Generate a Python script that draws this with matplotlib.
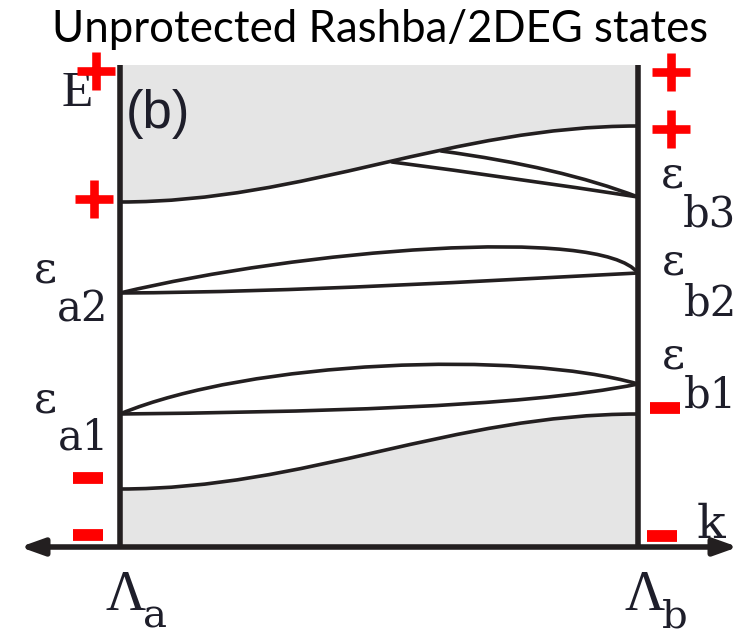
import matplotlib
matplotlib.use("Agg")
import matplotlib.pyplot as plt
from matplotlib.path import Path
from matplotlib.patches import PathPatch, FancyArrowPatch

# band energies (arb. units), k runs from Lambda_a (0) to Lambda_b (1)
E_top = 4.82
lower_bulk = [0.58, 1.33]     # top of the lower continuum at Lambda_a, Lambda_b
upper_bulk = [3.45, 4.21]     # bottom of the upper continuum
bulk_ctrl_k = [0.36, 0.64]

eps_a = [1.33, 2.54]          # eps_a1, eps_a2
eps_b = [1.63, 2.74, 3.50]    # eps_b1, eps_b2, eps_b3

# inner control points (k, E) of each split pair
a1_upper = [(0.251, 1.87), (0.772, 1.97)]
a1_lower = [(0.347, 1.35), (0.772, 1.39)]
a2_upper = [(0.347, 2.97), (0.927, 3.22)]
a2_lower = [(0.347, 2.55), (0.695, 2.66)]

# b3 pair runs from the upper continuum down to eps_b3
b3_merge = [(0.525, 3.85), (0.620, 3.96)]
b3_ctrl = [(0.7625, 3.69), (0.849, 3.80)]

ink = '#231f20'
gray = '#e5e5e5'
red = '#ff0000'
txt = '#1e1e2a'

fig = plt.figure(figsize=(7.48, 6.36), dpi=100)
ax = fig.add_axes([0, 0, 1, 1])
ax.set_xlim(-120 / 518, 628 / 518)
ax.set_ylim(-0.89, 5.47)
ax.axis('off')


def edge_pts(E):
    return [(0, E[0]), (bulk_ctrl_k[0], E[0]), (bulk_ctrl_k[1], E[1]), (1, E[1])]


def draw_curve(pts, lw=2.6):
    if len(pts) == 4:
        codes = [Path.MOVETO, Path.CURVE4, Path.CURVE4, Path.CURVE4]
    else:
        codes = [Path.MOVETO, Path.CURVE3, Path.CURVE3]
    ax.add_patch(PathPatch(Path(pts, codes), fill=False, lw=lw, edgecolor=ink,
                           capstyle='round', joinstyle='round', zorder=3))


# gray continua
up = edge_pts(upper_bulk)
top_path = Path([(0, E_top)] + up + [(1, E_top), (0, E_top)],
                [Path.MOVETO, Path.LINETO, Path.CURVE4, Path.CURVE4, Path.CURVE4,
                 Path.LINETO, Path.CLOSEPOLY])
ax.add_patch(PathPatch(top_path, facecolor=gray, edgecolor='none', zorder=1))

lo = edge_pts(lower_bulk)
bot_path = Path([(0, 0)] + lo + [(1, 0), (0, 0)],
                [Path.MOVETO, Path.LINETO, Path.CURVE4, Path.CURVE4, Path.CURVE4,
                 Path.LINETO, Path.CLOSEPOLY])
ax.add_patch(PathPatch(bot_path, facecolor=gray, edgecolor='none', zorder=1))

draw_curve(up)
draw_curve(lo)

# split pairs
draw_curve([(0, eps_a[0])] + a1_upper + [(1, eps_b[0])])
draw_curve([(0, eps_a[0])] + a1_lower + [(1, eps_b[0])])
draw_curve([(0, eps_a[1])] + a2_upper + [(1, eps_b[1])])
draw_curve([(0, eps_a[1])] + a2_lower + [(1, eps_b[1])])
for m, c in zip(b3_merge, b3_ctrl):
    draw_curve([m, c, (1, eps_b[2])])

# zone boundaries and k axis
for kb in (0, 1):
    ax.plot([kb, kb], [0, E_top], color=ink, lw=4, solid_capstyle='butt', zorder=4)
ax.add_patch(FancyArrowPatch((-0.193, 0), (1.193, 0), arrowstyle='<|-|>,head_length=14,head_width=5',
                             mutation_scale=1, lw=4, color=ink, zorder=5, shrinkA=0, shrinkB=0))

# labels
lab = 'DejaVu Serif'
kw = dict(color=txt, ha='center', va='baseline', family=lab)
ax.text(-0.144, 2.64, 'ε', fontsize=32, **kw)
ax.text(-0.072, 2.25, 'a2', fontsize=30, **kw)
ax.text(-0.144, 1.34, 'ε', fontsize=32, **kw)
ax.text(-0.070, 0.97, 'a1', fontsize=30, **kw)
ax.text(1.067, 3.59, 'ε', fontsize=32, **kw)
ax.text(1.138, 3.20, 'b3', fontsize=30, **kw)
ax.text(1.068, 2.72, 'ε', fontsize=32, **kw)
ax.text(1.139, 2.31, 'b2', fontsize=30, **kw)
ax.text(1.068, 1.78, 'ε', fontsize=32, **kw)
ax.text(1.139, 1.39, 'b1', fontsize=30, **kw)
ax.text(1.141, 0.09, 'k', fontsize=34, **kw)
ax.text(0.010, -0.63, 'Λ', fontsize=40, color=txt, ha='center', va='baseline', family='Liberation Serif')
ax.text(0.068, -0.80, 'a', fontsize=29, **kw)
ax.text(1.012, -0.63, 'Λ', fontsize=40, color=txt, ha='center', va='baseline', family='Liberation Serif')
ax.text(1.071, -0.80, 'b', fontsize=29, **kw)
ax.text(-0.083, 4.41, 'E', fontsize=37, color=txt, ha='center', va='baseline', family='Liberation Serif')
ax.text(0.012, 4.19, '(b)', fontsize=38, color=txt, ha='left', va='baseline', family='Liberation Sans')

# parity signs
plus_k = [-0.046, -0.050, 1.064, 1.064]
plus_E = [4.76, 3.48, 4.75, 4.18]
minus_k = [-0.062, -0.062, 1.052, 1.046]
minus_E = [0.69, 0.12, 1.39, 0.11]
ax.plot(plus_k, plus_E, ls='none', marker='+', ms=27, mew=6.2, color=red, zorder=6)
ax.plot(minus_k, minus_E, ls='none', marker='_', ms=21, mew=8.5, color=red, zorder=6)

fig.text(380 / 748, 1 - 42 / 636, 'Unprotected Rashba/2DEG states', fontsize=31.5,
         family='Lato', color='black', ha='center', va='baseline')

fig.savefig('out.png', dpi=100)
